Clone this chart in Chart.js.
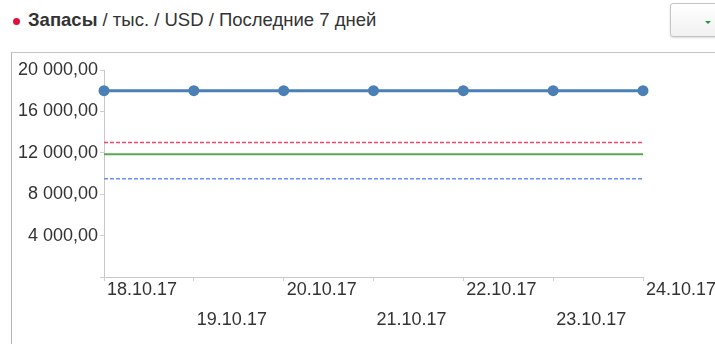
<!DOCTYPE html>
<html lang="ru">
<head>
<meta charset="utf-8">
<script src="https://cdn.jsdelivr.net/npm/chart.js@4/dist/chart.umd.min.js"></script>
<style>
  html, body { margin: 0; padding: 0; background: #fff; overflow: hidden; }
  body { width: 715px; height: 344px; position: relative; font-family: "Liberation Sans", Arial, sans-serif; }
  .title { position: absolute; left: 28px; top: 9px; font-size: 18.5px; color: #333; white-space: nowrap; }
  .title b { font-weight: bold; }
  .dot { position: absolute; left: 12.5px; top: 18px; width: 7px; height: 7px; border-radius: 50%; background: #e0103c; }
  .btn { position: absolute; left: 670px; top: 3px; width: 60px; height: 34px; border: 1px solid #c4c4c4; border-radius: 3px;
         background: linear-gradient(#ffffff, #f1f1f1); box-shadow: 0 1px 2px rgba(0,0,0,0.15); box-sizing: border-box; }
  .btn i { position: absolute; left: 34px; top: 17px; width: 0; height: 0; border-left: 3px solid transparent; border-right: 3px solid transparent; border-top: 3px solid #1a9a3a; }
  .panel { position: absolute; left: 11px; top: 52px; width: 720px; height: 300px; border-left: 1px solid #b4b4b4; border-top: 1px solid #c4c4c4; }
  .wrap { position: absolute; left: 0; top: 0; width: 715px; height: 344px; }
</style>
</head>
<body>
<div class="dot"></div>
<div class="title"><b>Запасы</b> / тыс. / USD / Последние 7 дней</div>
<div class="btn"><i></i></div>
<div class="panel"></div>
<div class="wrap"><canvas id="c" width="715" height="344"></canvas></div>
<script>
// Dates of the last seven days
const dates = ['18.10.17', '19.10.17', '20.10.17', '21.10.17', '22.10.17', '23.10.17', '24.10.17'];
// Stock level, thousand USD
const stock = [18000, 18000, 18000, 18000, 18000, 18000, 18000];
// Reference levels
const upperLimit = [13000, 13000, 13000, 13000, 13000, 13000, 13000];
const normLevel = [11850, 11850, 11850, 11850, 11850, 11850, 11850];
const lowerLimit = [9500, 9500, 9500, 9500, 9500, 9500, 9500];
// Value axis range
const yMin = 0, yMax = 20000, yStep = 2000, yLabelStep = 4000;

function fmt(v) {
  return Math.round(v).toString().replace(/\B(?=(\d{3})+(?!\d))/g, ' ') + ',00';
}

const font = { family: '"Liberation Sans", Arial, sans-serif', size: 18 };

new Chart(document.getElementById('c'), {
  type: 'line',
  data: {
    labels: dates,
    datasets: [
      { data: stock, borderColor: '#4a80b6', backgroundColor: '#4a80b6', borderWidth: 3,
        pointRadius: 5.5, pointHoverRadius: 5.5, pointBorderWidth: 0, clip: false, order: 0 },
      { data: upperLimit, borderColor: '#ea4a6c', borderWidth: 1.5, borderDash: [4, 2], pointRadius: 0, order: 1 },
      { data: normLevel, borderColor: '#5aa852', borderWidth: 2, pointRadius: 0, order: 1 },
      { data: lowerLimit, borderColor: '#6f8ff0', borderWidth: 1.5, borderDash: [4, 2], pointRadius: 0, order: 1 }
    ]
  },
  options: {
    responsive: false,
    animation: false,
    devicePixelRatio: 1,
    layout: { padding: { left: 0, top: 70, right: 72, bottom: 0 } },
    plugins: { legend: { display: false }, tooltip: { enabled: false } },
    scales: {
      x: {
        type: 'category',
        offset: false,
        grid: { display: true, drawOnChartArea: false, drawTicks: true, tickLength: 4, color: '#cfcfcf' },
        border: { display: true, color: '#c8c8c8', width: 1 },
        ticks: {
          autoSkip: false, maxRotation: 0, minRotation: 0, align: 'start', labelOffset: 3,
          padding: -6, color: '#333', font: Object.assign({ lineHeight: 1.68 }, font),
          callback: function (v, i) { const l = this.getLabelForValue(v); return i % 2 ? ['', l] : l; }
        },
        afterFit: function (s) { s.height = 67; s.paddingLeft = 0; s.paddingRight = 0; }
      },
      y: {
        min: yMin, max: yMax,
        grid: { display: true, drawOnChartArea: false, drawTicks: true, tickLength: 4, color: '#cfcfcf' },
        border: { display: true, color: '#c8c8c8', width: 1 },
        ticks: {
          stepSize: yStep, padding: 2, color: '#333', font: font,
          callback: function (v) { return (v % yLabelStep === 0 && v !== 0) ? fmt(v) : ''; }
        },
        afterFit: function (s) { s.width = 104; s.paddingTop = 0; s.paddingBottom = 0; }
      }
    }
  }
});
</script>
</body>
</html>
